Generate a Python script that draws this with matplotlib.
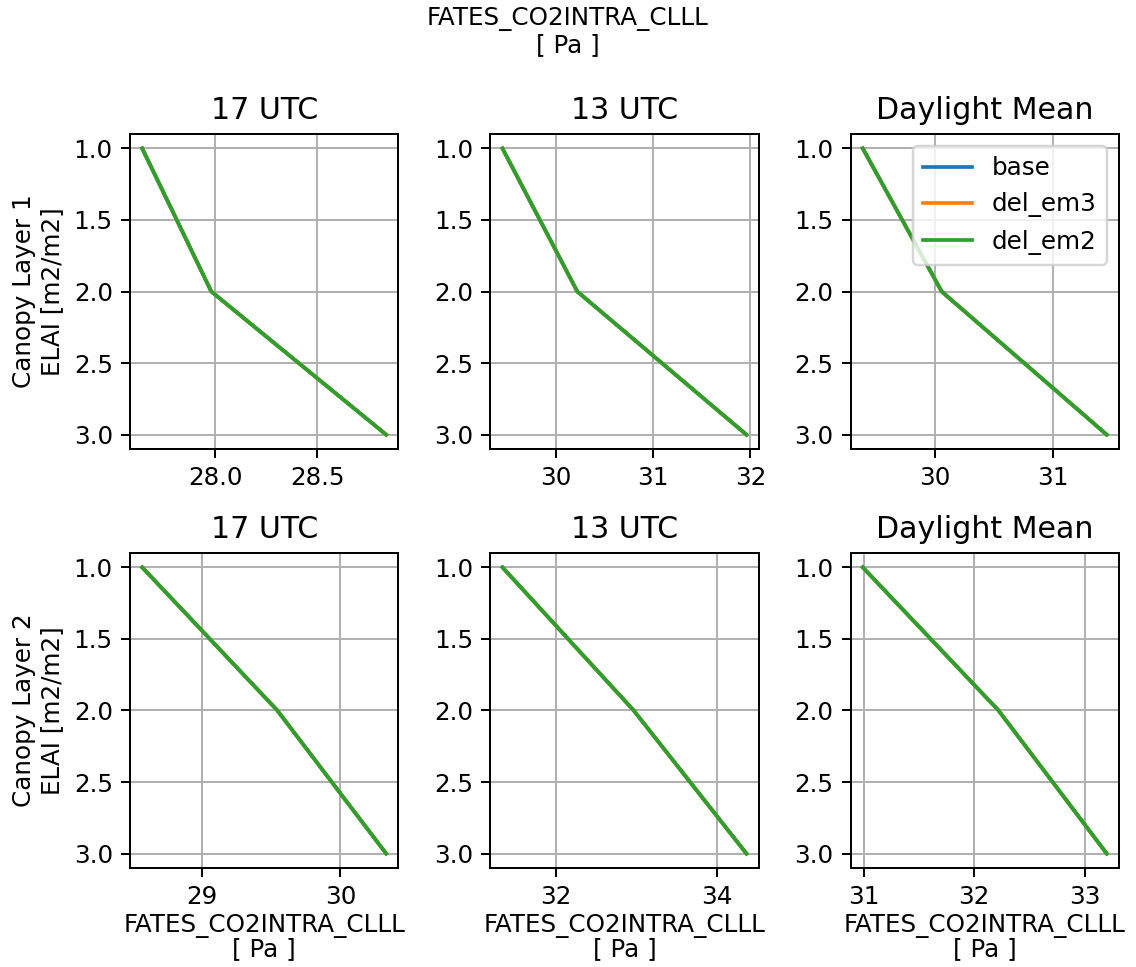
import numpy as np
import matplotlib
matplotlib.use("Agg")
import matplotlib.pyplot as plt

# canopy leaf layers (ELAI, m2/m2)
elai = [1.0, 2.0, 3.0]

cases = ["base", "del_em3", "del_em2"]
colors = ["tab:blue", "tab:orange", "tab:green"]
titles = ["17 UTC", "13 UTC", "Daylight Mean"]

# FATES_CO2INTRA_CLLL [Pa], canopy layer 1 (the three cases overlap)
cl1_17utc = [27.64, 27.98, 28.84]
cl1_13utc = [29.45, 30.22, 31.96]
cl1_daymean = [29.39, 30.06, 31.46]

# canopy layer 2
cl2_17utc = [28.57, 29.545, 30.33]
cl2_13utc = [31.34, 32.97, 34.37]
cl2_daymean = [30.99, 32.22, 33.20]

rows = [
    [cl1_17utc, cl1_13utc, cl1_daymean],
    [cl2_17utc, cl2_13utc, cl2_daymean],
]

varname = "FATES_CO2INTRA_CLLL\n[ Pa ]"

DPI = 177
fig, axes = plt.subplots(2, 3, figsize=(1136 / DPI, 967 / DPI), dpi=DPI)
fig.subplots_adjust(left=0.1144, right=0.985, top=0.8614, bottom=0.1024,
                    wspace=0.342, hspace=0.33)

for r, panels in enumerate(rows):
    for c, vals in enumerate(panels):
        ax = axes[r, c]
        for case, col in zip(cases, colors):
            # all cases share the same values in this output
            ax.plot(vals, elai, color=col, label=case)
        ax.invert_yaxis()
        ax.grid(True)
        ax.set_title(titles[c], fontsize=12.2)
        if c == 0:
            ax.set_ylabel(f"Canopy Layer {r + 1}\nELAI [m2/m2]")
        if r == 1:
            ax.set_xlabel(varname, linespacing=0.95, labelpad=2)

axes[0, 1].xaxis.set_major_locator(matplotlib.ticker.MultipleLocator(1))
axes[0, 2].xaxis.set_major_locator(matplotlib.ticker.MultipleLocator(1))
axes[1, 0].xaxis.set_major_locator(matplotlib.ticker.MultipleLocator(1))
axes[1, 1].xaxis.set_major_locator(matplotlib.ticker.MultipleLocator(2))
axes[1, 2].xaxis.set_major_locator(matplotlib.ticker.MultipleLocator(1))

axes[0, 2].legend(loc="upper right")

fig.suptitle(varname, fontsize=10, y=0.993, linespacing=1.1)

fig.savefig("out.png", dpi=DPI)
